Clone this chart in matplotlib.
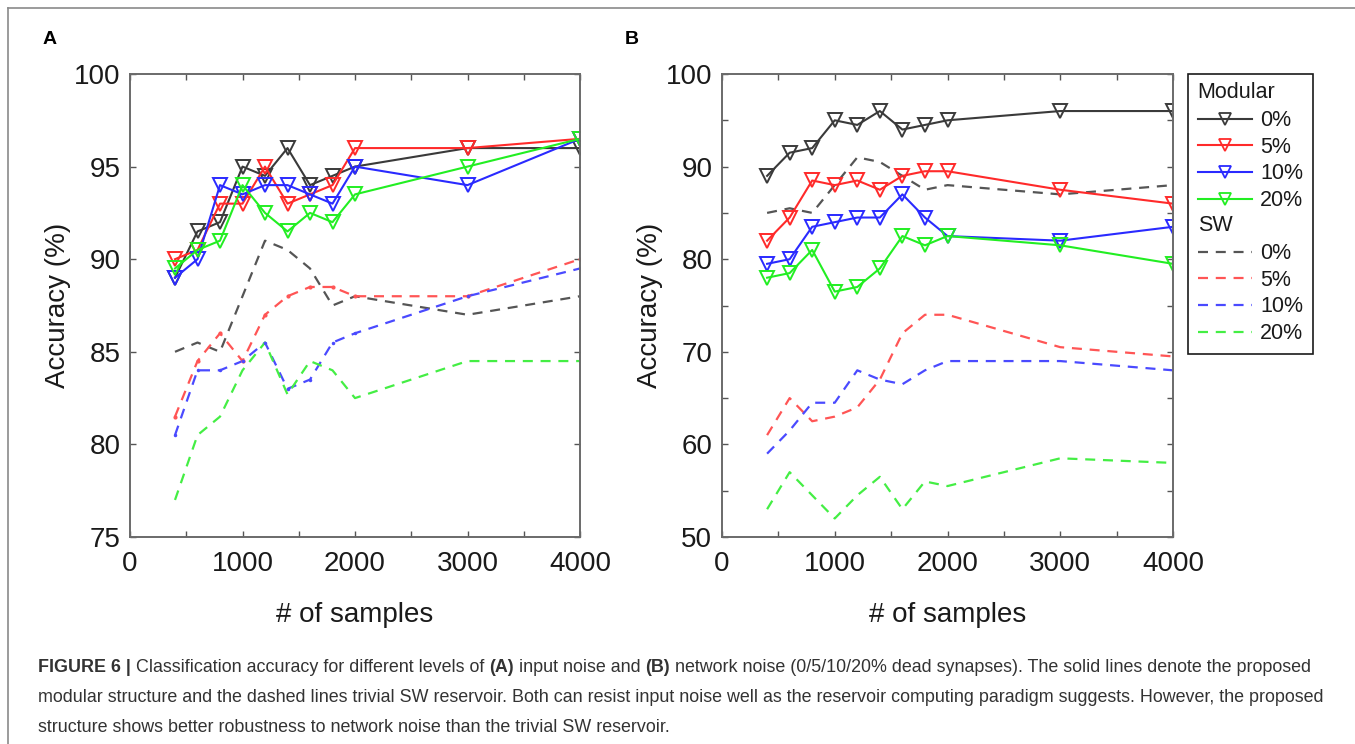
import matplotlib
matplotlib.use("Agg")
import matplotlib.pyplot as plt
from matplotlib.lines import Line2D
from matplotlib.text import Text
from matplotlib.legend_handler import HandlerBase
from matplotlib.transforms import IdentityTransform

plt.rcParams["font.family"] = ["Liberation Sans", "DejaVu Sans"]

# ===== Données =====
samples = [400, 600, 800, 1000, 1200, 1400, 1600, 1800, 2000, 3000, 4000]
levels = ["0%", "5%", "10%", "20%"]

# (A) bruit d'entrée
a_mod_0 = [89.0, 91.5, 92.0, 95.0, 94.5, 96.0, 94.0, 94.5, 95.0, 96.0, 96.0]
a_mod_5 = [90.0, 90.5, 93.0, 93.0, 95.0, 93.0, 93.5, 94.0, 96.0, 96.0, 96.5]
a_mod_10 = [89.0, 90.0, 94.0, 93.5, 94.0, 94.0, 93.5, 93.0, 95.0, 94.0, 96.5]
a_mod_20 = [89.5, 90.5, 91.0, 94.0, 92.5, 91.5, 92.5, 92.0, 93.5, 95.0, 96.5]
a_sw_0 = [85.0, 85.5, 85.0, 88.0, 91.0, 90.5, 89.5, 87.5, 88.0, 87.0, 88.0]
a_sw_5 = [81.5, 84.5, 86.0, 84.5, 87.0, 88.0, 88.5, 88.5, 88.0, 88.0, 90.0]
a_sw_10 = [80.5, 84.0, 84.0, 84.5, 85.5, 83.0, 83.5, 85.5, 86.0, 88.0, 89.5]
a_sw_20 = [77.0, 80.5, 81.5, 84.0, 85.5, 82.7, 84.5, 84.0, 82.5, 84.5, 84.5]

# (B) bruit réseau
b_mod_0 = [89.0, 91.5, 92.0, 95.0, 94.5, 96.0, 94.0, 94.5, 95.0, 96.0, 96.0]
b_mod_5 = [82.0, 84.5, 88.5, 88.0, 88.5, 87.5, 89.0, 89.5, 89.5, 87.5, 86.0]
b_mod_10 = [79.5, 80.0, 83.5, 84.0, 84.5, 84.5, 87.0, 84.5, 82.5, 82.0, 83.5]
b_mod_20 = [78.0, 78.5, 81.0, 76.5, 77.0, 79.0, 82.5, 81.5, 82.5, 81.5, 79.5]
b_sw_0 = [85.0, 85.5, 85.0, 88.0, 91.0, 90.5, 89.0, 87.5, 88.0, 87.0, 88.0]
b_sw_5 = [61.0, 65.0, 62.5, 63.0, 64.0, 67.0, 72.0, 74.0, 74.0, 70.5, 69.5]
b_sw_10 = [59.0, 61.5, 64.5, 64.5, 68.0, 67.0, 66.5, 68.0, 69.0, 69.0, 68.0]
b_sw_20 = [53.0, 57.0, 54.5, 52.0, 54.5, 56.5, 53.0, 56.0, 55.5, 58.5, 58.0]

# ===== Styles =====
col_solid = ["#3a3a3a", "#ff2a2a", "#2a2aff", "#22ee22"]
col_dash = ["#555555", "#ff5555", "#4a4aff", "#44ee44"]
dash = (0, (4.5, 3.5))
W, H = 1355, 744


class Header:
    def __init__(self, text):
        self.text = text


class HeaderHandler(HandlerBase):
    def create_artists(self, legend, orig_handle, xdescent, ydescent,
                       width, height, fontsize, trans):
        t = Text(-xdescent, (height - ydescent) / 2.0, orig_handle.text,
                 fontsize=fontsize, ha="left", va="center",
                 color="#1a1a1a", transform=trans)
        return [t]


def style_axes(ax, ylim, ystep_label):
    ax.set_xlim(0, 4000)
    ax.set_ylim(*ylim)
    ax.set_xticks(range(0, 4001, 1000))
    ax.set_xticks(range(500, 4000, 1000), minor=True)
    yt = list(range(ylim[0], ylim[1] + 1, 5))
    ax.set_yticks([v for v in yt if (v - ylim[0]) % ystep_label == 0])
    ax.set_yticks([v for v in yt if (v - ylim[0]) % ystep_label != 0], minor=True)
    ax.tick_params(which="both", direction="in", top=True, right=True,
                   length=4, width=1, color="#555555")
    ax.tick_params(which="major", labelsize=20, pad=7, labelcolor="#1a1a1a")
    ax.tick_params(axis="x", which="major", pad=10)
    for s in ax.spines.values():
        s.set_color("#6a6a6a")
        s.set_linewidth(1.4)
    ax.set_xlabel("# of samples", fontsize=20, color="#1a1a1a")
    ax.set_ylabel("Accuracy (%)", fontsize=20, color="#1a1a1a")
    ax.xaxis.set_label_coords(0.5, -0.14)
    ax.yaxis.set_label_coords(-0.131, 0.5)


fig = plt.figure(figsize=(W / 100, H / 100), dpi=100)
axA = fig.add_axes([130 / W, 1 - 537 / H, 450 / W, 463 / H])
axB = fig.add_axes([722 / W, 1 - 537 / H, 451 / W, 463 / H])

# --- Panneau A ---
for y, c in zip([a_sw_0, a_sw_5, a_sw_10, a_sw_20], col_dash):
    axA.plot(samples, y, linestyle=dash, color=c, lw=1.6)
axA.plot(samples, a_sw_5, linestyle="none", marker=".", ms=4, color=col_dash[1])
axA.plot(samples, a_sw_10, linestyle="none", marker=".", ms=3, color=col_dash[2])
for y, c in zip([a_mod_0, a_mod_5, a_mod_10, a_mod_20], col_solid):
    axA.plot(samples, y, "-", color=c, lw=1.5, marker="v", ms=10,
             mfc="none", mec=c, mew=1.4)
style_axes(axA, (75, 100), 5)

# --- Panneau B ---
for y, c in zip([b_sw_0, b_sw_5, b_sw_10, b_sw_20], col_dash):
    axB.plot(samples, y, linestyle=dash, color=c, lw=1.6)
for y, c in zip([b_mod_0, b_mod_5, b_mod_10, b_mod_20], col_solid):
    axB.plot(samples, y, "-", color=c, lw=1.5, marker="v", ms=10,
             mfc="none", mec=c, mew=1.4)
style_axes(axB, (50, 100), 10)

# --- Légende ---
handles = [Header("Modular")]
labels = [""]
for c, lab in zip(col_solid, levels):
    handles.append(Line2D([], [], color=c, lw=1.5, marker="v", ms=8,
                          mfc="none", mec=c, mew=1.3))
    labels.append(lab)
handles.append(Header("SW"))
labels.append("")
for c, lab in zip(col_dash, levels):
    handles.append(Line2D([], [], color=c, lw=1.6, linestyle=dash))
    labels.append(lab)

leg = fig.legend(handles, labels, handler_map={Header: HeaderHandler()},
                 loc="upper left", bbox_to_anchor=(1188 / W, 1 - 74 / H),
                 bbox_transform=fig.transFigure, borderaxespad=0,
                 fontsize=15.5, handlelength=2.5, handletextpad=0.4,
                 labelspacing=0.26, borderpad=0.45, numpoints=1,
                 fancybox=False, framealpha=1, edgecolor="#1a1a1a")
leg.get_frame().set_linewidth(1.2)
for t in leg.get_texts():
    t.set_color("#1a1a1a")

# --- Lettres des panneaux ---
fig.text(43 / W, 1 - 40 / H, "A", fontsize=14, fontweight="bold", va="center")
fig.text(625 / W, 1 - 40 / H, "B", fontsize=14, fontweight="bold", va="center")

# --- Cadre de la figure ---
fig.add_artist(Line2D([8 / W, 8 / W], [0, 1 - 8 / H], transform=fig.transFigure,
                      color="#8a8a8a", lw=1.2))
fig.add_artist(Line2D([8 / W, 1], [1 - 8 / H, 1 - 8 / H], transform=fig.transFigure,
                      color="#8a8a8a", lw=1.2))

# --- Légende de la figure (texte) ---
caption = [
    [("FIGURE 6 |", "bold"), ("Classification accuracy for different levels of", "normal"),
     ("(A)", "bold"), ("input noise and", "normal"), ("(B)", "bold"),
     ("network noise (0/5/10/20% dead synapses). The solid lines denote the proposed", "normal")],
    [("modular structure and the dashed lines trivial SW reservoir. Both can resist input "
      "noise well as the reservoir computing paradigm suggests. However, the proposed", "normal")],
    [("structure shows better robustness to network noise than the trivial SW reservoir.", "normal")],
]
renderer = fig.canvas.get_renderer()
cap_size = 12.9
probe = fig.text(0, 0, "a a", fontsize=cap_size)
w2 = probe.get_window_extent(renderer).width
probe.set_text("aa")
space_w = w2 - probe.get_window_extent(renderer).width
probe.remove()

for i, parts in enumerate(caption):
    x = 38
    y = H - (672 + 30 * i)
    for j, (s, wgt) in enumerate(parts):
        t = fig.text(x, y, s, fontsize=cap_size, fontweight=wgt, color="#333333",
                     va="baseline", transform=IdentityTransform())
        x += t.get_window_extent(renderer).width + space_w

fig.savefig("out.png", dpi=100, facecolor="white")
